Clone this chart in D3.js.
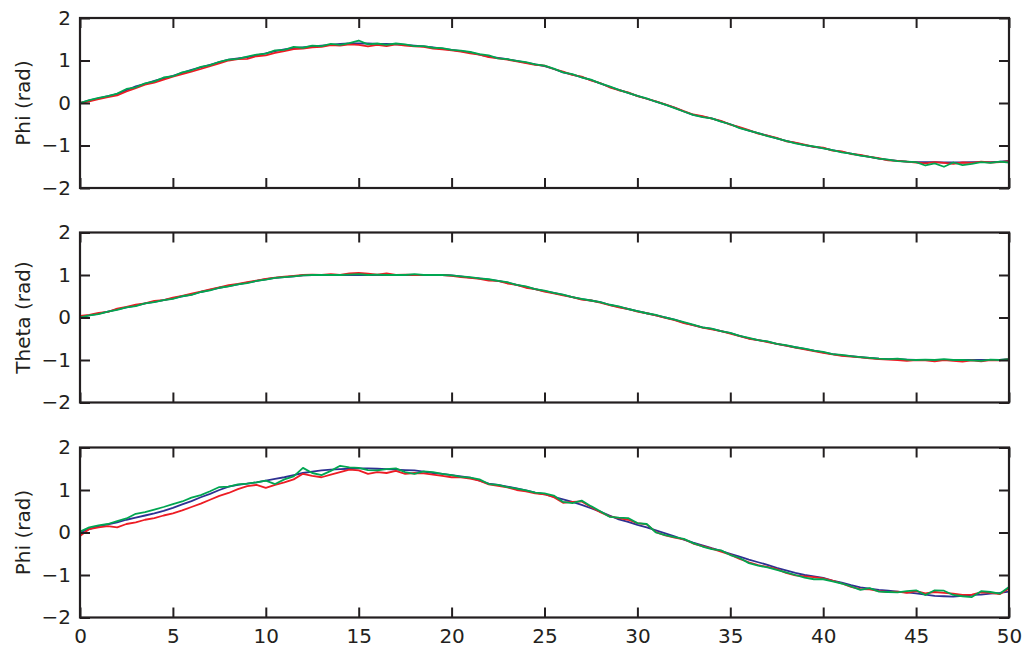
<!DOCTYPE html>
<html>
<head>
<meta charset="utf-8">
<script src="https://cdn.jsdelivr.net/npm/d3@7"></script>
<style>
body { margin: 0; background: #fff; }
text { font-family: "DejaVu Sans", Verdana, sans-serif; }
</style>
</head>
<body>
<div id="chart"></div>
<script>
//////////////////////////////////////////////////////////////////////////////
// Data, sampled every 0.5 s from 0 to 50

var time = d3.range(0, 50.25, 0.5);

var phiRef = [0.00,0.06,0.11,0.16,0.21,0.30,0.39,0.45,0.52,0.58,0.64,0.71,0.78,0.84,0.90,0.96,1.02,1.05,1.08,1.12,
1.17,1.22,1.26,1.29,1.31,1.33,1.35,1.37,1.39,1.40,1.40,1.40,1.39,1.39,1.38,1.37,1.35,1.33,1.31,1.28,
1.25,1.22,1.19,1.14,1.09,1.06,1.03,0.99,0.95,0.91,0.87,0.80,0.72,0.67,0.61,0.54,0.46,0.38,0.31,0.24,
0.17,0.10,0.03,-0.04,-0.11,-0.20,-0.28,-0.32,-0.36,-0.43,-0.50,-0.58,-0.65,-0.71,-0.77,-0.83,-0.89,-0.94,-0.99,-1.03,
-1.06,-1.11,-1.15,-1.19,-1.23,-1.27,-1.31,-1.34,-1.36,-1.38,-1.39,-1.39,-1.39,-1.40,-1.40,-1.40,-1.39,-1.39,-1.39,-1.38,-1.36];

var phiRed = [0.00,0.04,0.09,0.14,0.18,0.27,0.35,0.43,0.48,0.55,0.62,0.68,0.74,0.80,0.87,0.93,1.00,1.03,1.04,1.10,
1.12,1.18,1.22,1.27,1.28,1.31,1.32,1.36,1.35,1.38,1.37,1.33,1.37,1.34,1.38,1.35,1.33,1.32,1.28,1.26,
1.24,1.21,1.17,1.14,1.08,1.05,1.02,0.98,0.94,0.90,0.88,0.80,0.74,0.66,0.62,0.53,0.47,0.37,0.30,0.25,
0.16,0.10,0.04,-0.03,-0.11,-0.19,-0.27,-0.31,-0.37,-0.42,-0.51,-0.57,-0.64,-0.72,-0.77,-0.82,-0.90,-0.93,-0.98,-1.03,
-1.05,-1.12,-1.14,-1.20,-1.22,-1.27,-1.30,-1.35,-1.36,-1.38,-1.40,-1.42,-1.39,-1.41,-1.43,-1.40,-1.41,-1.38,-1.40,-1.39,-1.37];

var phiGreen = [0.00,0.07,0.12,0.16,0.22,0.33,0.37,0.46,0.51,0.60,0.63,0.72,0.77,0.85,0.89,0.97,1.02,1.04,1.09,1.14,
1.16,1.24,1.25,1.32,1.30,1.35,1.34,1.39,1.37,1.41,1.47,1.38,1.40,1.37,1.40,1.38,1.34,1.34,1.30,1.29,
1.25,1.23,1.20,1.15,1.12,1.05,1.03,0.99,0.96,0.91,0.88,0.81,0.72,0.68,0.60,0.55,0.46,0.39,0.31,0.24,
0.17,0.11,0.03,-0.04,-0.12,-0.20,-0.28,-0.33,-0.36,-0.44,-0.50,-0.59,-0.65,-0.71,-0.78,-0.83,-0.89,-0.95,-0.99,-1.02,
-1.07,-1.11,-1.16,-1.19,-1.24,-1.27,-1.31,-1.33,-1.37,-1.38,-1.39,-1.47,-1.42,-1.50,-1.40,-1.46,-1.43,-1.39,-1.41,-1.38,-1.40];

var thetaRef = [0.02,0.05,0.09,0.14,0.19,0.24,0.28,0.33,0.37,0.41,0.45,0.50,0.54,0.60,0.65,0.70,0.74,0.78,0.82,0.86,
0.90,0.93,0.95,0.97,0.99,1.00,1.00,1.00,1.00,1.00,1.00,1.00,1.00,1.00,1.00,1.00,1.00,1.00,1.00,1.00,
0.99,0.97,0.94,0.92,0.89,0.86,0.82,0.77,0.72,0.67,0.62,0.58,0.53,0.48,0.43,0.40,0.36,0.30,0.25,0.20,
0.15,0.10,0.05,0.00,-0.05,-0.12,-0.18,-0.23,-0.27,-0.32,-0.37,-0.43,-0.49,-0.53,-0.57,-0.62,-0.66,-0.70,-0.74,-0.78,
-0.82,-0.86,-0.89,-0.91,-0.93,-0.95,-0.97,-0.98,-0.98,-0.99,-1.00,-1.00,-1.00,-1.00,-1.00,-1.00,-1.00,-1.00,-1.00,-1.00,-0.98];

var thetaRed = [0.04,0.06,0.11,0.13,0.21,0.25,0.30,0.33,0.39,0.41,0.47,0.51,0.56,0.61,0.66,0.71,0.76,0.79,0.83,0.87,
0.91,0.94,0.96,0.98,1.00,1.01,1.00,1.02,1.00,1.04,1.05,1.03,1.01,1.04,1.00,1.01,1.00,1.00,1.00,1.00,
0.98,0.95,0.93,0.91,0.87,0.86,0.80,0.77,0.70,0.67,0.61,0.57,0.52,0.48,0.42,0.40,0.35,0.29,0.24,0.20,
0.14,0.10,0.05,-0.01,-0.06,-0.13,-0.18,-0.24,-0.28,-0.32,-0.38,-0.44,-0.50,-0.53,-0.58,-0.62,-0.66,-0.71,-0.75,-0.79,
-0.83,-0.87,-0.90,-0.92,-0.94,-0.96,-0.98,-0.99,-1.00,-1.02,-1.00,-1.01,-1.03,-1.00,-1.02,-1.04,-1.01,-1.03,-1.00,-1.01,-0.98];

var thetaGreen = [0.00,0.05,0.08,0.14,0.18,0.24,0.27,0.33,0.36,0.41,0.44,0.50,0.53,0.60,0.64,0.70,0.73,0.78,0.81,0.86,
0.89,0.93,0.95,0.97,0.99,1.00,1.00,1.00,1.00,1.01,1.02,1.00,1.01,1.00,1.00,1.00,1.02,1.00,1.00,1.00,
0.99,0.97,0.95,0.92,0.90,0.86,0.83,0.77,0.73,0.67,0.63,0.58,0.54,0.48,0.44,0.40,0.36,0.30,0.26,0.20,
0.15,0.10,0.06,0.00,-0.05,-0.11,-0.17,-0.23,-0.26,-0.32,-0.36,-0.43,-0.48,-0.53,-0.56,-0.62,-0.65,-0.70,-0.73,-0.78,
-0.81,-0.86,-0.88,-0.91,-0.93,-0.95,-0.97,-0.98,-0.97,-0.99,-1.00,-0.99,-1.00,-0.98,-1.00,-1.00,-1.01,-1.02,-0.99,-1.00,-0.98];

var phi2Ref = [0.00,0.08,0.15,0.19,0.24,0.30,0.35,0.40,0.45,0.51,0.58,0.66,0.74,0.83,0.91,1.00,1.08,1.12,1.15,1.18,
1.22,1.26,1.30,1.35,1.40,1.43,1.46,1.48,1.49,1.50,1.51,1.51,1.50,1.49,1.48,1.47,1.46,1.43,1.40,1.38,
1.35,1.32,1.29,1.22,1.15,1.12,1.08,1.04,0.99,0.94,0.90,0.84,0.78,0.72,0.65,0.57,0.49,0.40,0.31,0.25,
0.18,0.12,0.05,-0.02,-0.09,-0.17,-0.24,-0.30,-0.37,-0.43,-0.50,-0.57,-0.64,-0.70,-0.76,-0.83,-0.89,-0.95,-1.00,-1.03,
-1.07,-1.13,-1.18,-1.24,-1.29,-1.32,-1.35,-1.37,-1.39,-1.41,-1.43,-1.46,-1.49,-1.50,-1.51,-1.49,-1.47,-1.46,-1.44,-1.42,-1.39];

var phi2Red = [-0.08,0.08,0.12,0.15,0.12,0.20,0.24,0.30,0.34,0.40,0.45,0.52,0.60,0.68,0.77,0.86,0.93,1.02,1.09,1.12,
1.05,1.12,1.18,1.25,1.38,1.33,1.30,1.36,1.42,1.48,1.46,1.38,1.42,1.40,1.45,1.38,1.40,1.39,1.36,1.33,
1.30,1.30,1.27,1.22,1.13,1.10,1.06,1.00,0.97,0.92,0.90,0.83,0.70,0.72,0.73,0.60,0.48,0.38,0.34,0.30,
0.22,0.19,0.01,-0.07,-0.12,-0.16,-0.26,-0.32,-0.38,-0.45,-0.52,-0.62,-0.70,-0.77,-0.81,-0.86,-0.95,-1.01,-1.03,-1.05,
-1.08,-1.13,-1.20,-1.28,-1.33,-1.34,-1.38,-1.40,-1.39,-1.42,-1.38,-1.43,-1.40,-1.42,-1.44,-1.47,-1.46,-1.41,-1.42,-1.45,-1.32];

var phi2Green = [0.02,0.12,0.17,0.20,0.27,0.33,0.44,0.48,0.54,0.60,0.67,0.73,0.82,0.88,0.97,1.07,1.08,1.13,1.15,1.18,
1.22,1.14,1.25,1.32,1.52,1.40,1.35,1.45,1.57,1.53,1.52,1.47,1.46,1.49,1.51,1.42,1.38,1.44,1.42,1.38,
1.35,1.31,1.29,1.25,1.14,1.12,1.07,1.03,0.99,0.94,0.92,0.87,0.72,0.69,0.75,0.62,0.50,0.37,0.35,0.34,
0.22,0.20,0.00,-0.06,-0.11,-0.15,-0.25,-0.33,-0.39,-0.42,-0.53,-0.60,-0.72,-0.78,-0.82,-0.88,-0.94,-1.00,-1.06,-1.10,
-1.10,-1.15,-1.20,-1.27,-1.35,-1.31,-1.39,-1.40,-1.41,-1.38,-1.36,-1.47,-1.36,-1.37,-1.47,-1.50,-1.52,-1.38,-1.40,-1.44,-1.28];

var xTicks = [0, 5, 10, 15, 20, 25, 30, 35, 40, 45, 50];
var yTicks = [-2, -1, 0, 1, 2];

var panels = [
    { label: "Phi (rad)",   series: [phiRef, phiRed, phiGreen] },
    { label: "Theta (rad)", series: [thetaRef, thetaRed, thetaGreen] },
    { label: "Phi (rad)",   series: [phi2Ref, phi2Red, phi2Green] }
];
var seriesColors = ["#2e3192", "#ed1c24", "#00a651"];

//////////////////////////////////////////////////////////////////////////////

var width = 1031, height = 651;
var left = 80, right = 1009;
var panelTops = [18, 232.5, 447.5];
var panelHeight = 170;
var fontSize = 20;

var svg = d3.select("#chart")
    .append("svg")
    .attr("width", width)
    .attr("height", height);

var x = d3.scaleLinear().domain([0, 50]).range([left, right]);

function fmt(d) { return d < 0 ? "\u2212" + (-d) : "" + d; }

panels.forEach(function(p, i) {
    var top = panelTops[i];
    var y = d3.scaleLinear().domain([-2, 2]).range([top + panelHeight, top]);
    var g = svg.append("g");

    var line = d3.line()
        .x(function(d, k) { return x(time[k]); })
        .y(function(d) { return y(d); });

    g.selectAll("path.series")
        .data(p.series)
        .enter()
        .append("path")
        .attr("class", "series")
        .attr("fill", "none")
        .attr("stroke", function(d, k) { return seriesColors[k]; })
        .attr("stroke-width", 1.8)
        .attr("stroke-linejoin", "round")
        .attr("d", line);

    // ticks on all four sides, pointing inward
    var axL = g.append("g").attr("transform", "translate(" + left + ",0)")
        .call(d3.axisLeft(y).tickValues(yTicks).tickSize(-10).tickPadding(9).tickFormat(fmt));
    var axR = g.append("g").attr("transform", "translate(" + right + ",0)")
        .call(d3.axisRight(y).tickValues(yTicks).tickSize(-10).tickFormat(""));
    var axT = g.append("g").attr("transform", "translate(0," + top + ")")
        .call(d3.axisTop(x).tickValues(xTicks).tickSize(-10).tickFormat(""));
    var axB = g.append("g").attr("transform", "translate(0," + (top + panelHeight) + ")")
        .call(d3.axisBottom(x).tickValues(xTicks).tickSize(-10).tickPadding(11)
            .tickFormat(i === 2 ? fmt : ""));

    [axL, axR, axT, axB].forEach(function(a) {
        a.select(".domain").remove();
        a.selectAll("line").attr("stroke", "#231f20").attr("stroke-width", 2);
        a.selectAll("text").attr("font-size", fontSize).attr("fill", "#231f20")
            .style("font-family", "'DejaVu Sans', Verdana, sans-serif");
    });

    g.append("rect")
        .attr("x", left).attr("y", top)
        .attr("width", right - left).attr("height", panelHeight)
        .attr("fill", "none")
        .attr("stroke", "#231f20")
        .attr("stroke-width", 2.2);

    g.append("text")
        .attr("transform", "translate(30," + (top + panelHeight / 2) + ") rotate(-90)")
        .attr("text-anchor", "middle")
        .attr("font-size", fontSize)
        .attr("fill", "#231f20")
        .text(p.label);
});
</script>
</body>
</html>
